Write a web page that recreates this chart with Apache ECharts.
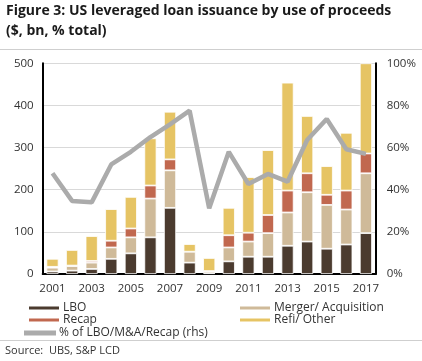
<!DOCTYPE html>
<html><head><meta charset="utf-8">
<script src="https://cdn.jsdelivr.net/npm/echarts@6/dist/echarts.min.js"></script>
<style>html,body{margin:0;padding:0;background:#fff}#c{width:422px;height:361px}</style>
</head><body><div id="c"></div>
<script>
const years = ['2001','2002','2003','2004','2005','2006','2007','2008','2009','2010','2011','2012','2013','2014','2015','2016','2017'];
const lbo    = [6, 8, 12, 36, 49, 87, 157, 27, 2, 30, 41, 41, 67, 77, 60, 70, 97];
const merger = [9, 11, 15, 27, 38, 92, 89, 26, 5, 33, 36, 56, 79, 117, 104, 83, 142];
const recap  = [2, 1, 4, 16, 21, 31, 26, 0, 0, 29, 21, 43, 52, 45, 24, 45, 47];
const refi   = [19, 37, 59, 75, 75, 112, 113, 18, 31, 65, 132, 154, 256, 136, 68, 137, 214];
const pct    = [47.8, 34.7, 34.0, 52, 58, 65, 71, 77.5, 31.2, 58, 42.7, 47.5, 43.8, 63.6, 73.6, 59.2, 57];
const leftTicks = [0, 100, 200, 300, 400, 500];
const rightTicks = [0, 20, 40, 60, 80, 100];

const C = {lbo:'#4b3b2f', merger:'#cfba99', recap:'#c1684f', refi:'#e6c464', line:'#ababab'};
const font = 'Open Sans';
const names = ['LBO','Merger/ Acquisition','Recap','Refi/ Other','% of LBO/M&A/Recap (rhs)'];

function bar(name, data, color){
  return {name, type:'bar', stack:'s', data, barWidth:'62%', yAxisIndex:0,
    itemStyle:{color, borderColor:'#fff', borderWidth:0.8}, emphasis:{disabled:true}};
}
const chart = echarts.init(document.getElementById('c'), null, {renderer:'canvas'});
function leg(name, left, top){
  return {data:[name], left, top, itemWidth:32, itemHeight:5, icon:'rect', padding:0,
    textStyle:{fontFamily:font, fontSize:12, color:'#333', padding:[0,0,0,-2]}, itemGap:0, selectedMode:false};
}
chart.setOption({
  animation:false,
  title:{text:'Figure 3: US leveraged loan issuance by use of proceeds\n($, bn, % total)', left:6, top:1, padding:0,
    textStyle:{fontFamily:font, fontSize:14, fontWeight:'bold', color:'#1a1a1a', lineHeight:20}},
  grid:{left:42.7, right:46.3, top:63.3, bottom:87},
  legend:[leg(names[0],27,302), leg(names[2],27,314), leg(names[4],24,327), leg(names[1],238,302), leg(names[3],238,314)],
  xAxis:{type:'category', data:years, boundaryGap:true,
    axisLine:{lineStyle:{color:'#000', width:2}}, axisTick:{show:false},
    axisLabel:{interval:1, fontFamily:font, fontSize:11.5, color:'#333', margin:9}},
  yAxis:[
    {type:'value', min:0, max:500, interval:100,
      axisLine:{show:true, lineStyle:{color:'#000', width:2}}, axisTick:{show:false},
      splitLine:{lineStyle:{color:'#d9d9d9', width:1}},
      axisLabel:{fontFamily:font, fontSize:11.5, color:'#333', margin:9}},
    {type:'value', min:0, max:100, interval:20, position:'right',
      axisLine:{show:true, lineStyle:{color:'#000', width:2}}, axisTick:{show:false},
      splitLine:{show:false},
      axisLabel:{formatter:'{value}%', fontFamily:font, fontSize:11.5, color:'#333', margin:11}}
  ],
  series:[
    bar(names[0], lbo, C.lbo),
    bar(names[1], merger, C.merger),
    bar(names[2], recap, C.recap),
    bar(names[3], refi, C.refi),
    {name:names[4], type:'line', yAxisIndex:1, data:pct, symbol:'none',
      lineStyle:{color:C.line, width:4.5}, itemStyle:{color:C.line}, z:5}
  ],
  graphic:[
    {type:'line', shape:{x1:0,y1:49.5,x2:422,y2:49.5}, style:{stroke:'#cfcfcf', lineWidth:1}},
    {type:'line', shape:{x1:0,y1:340.5,x2:422,y2:340.5}, style:{stroke:'#cfcfcf', lineWidth:1}},
    {type:'text', left:5, top:345, style:{text:'Source:  UBS, S&P LCD', fontFamily:font, fontSize:11, fill:'#333'}}
  ]
});
</script></body></html>
